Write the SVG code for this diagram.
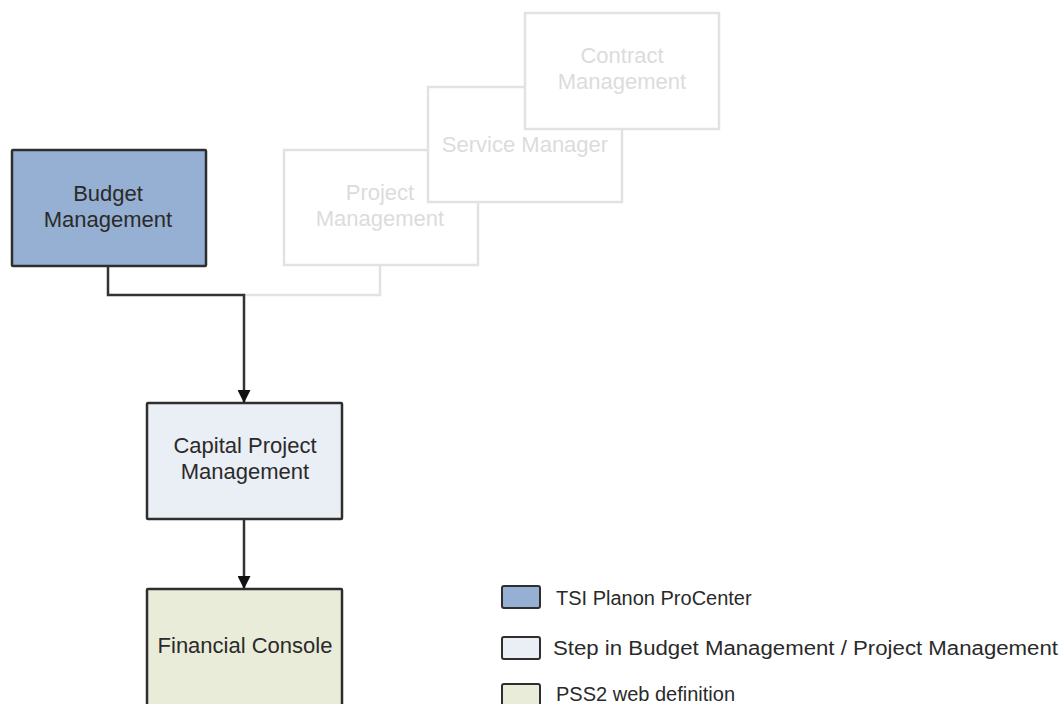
<svg xmlns="http://www.w3.org/2000/svg" width="1064" height="704" viewBox="0 0 1064 704">
<style>
text{font-family:"Liberation Sans",Arial,sans-serif;font-size:22px;text-anchor:middle;fill:#2a2a2a}
.faint rect{fill:#fff;stroke:#e2e2e2;stroke-width:2.5}
.faint text{fill:#dcdcdc}
.node rect{stroke:#2e2e2e;stroke-width:2.5}
.leg rect{stroke:#2e2e2e;stroke-width:2}
.leg text{text-anchor:start;font-size:20px}
.conn{fill:none;stroke:#333;stroke-width:2.5}
</style>
<defs>
<marker id="ah" markerWidth="13" markerHeight="13" refX="12" refY="6.5" orient="auto" markerUnits="userSpaceOnUse">
<path d="M0,0 L13,6.5 L0,13 Z" fill="#111"/>
</marker>
</defs>
<rect width="1064" height="704" fill="#fff"/>
<g id="connectors-faint">
<path d="M244,295 H380 V266" fill="none" stroke="#e2e2e2" stroke-width="2.5"/>
</g>
<g id="project-management" class="faint">
<rect x="284" y="150" width="194" height="115"/>
<text x="380" y="200">Project</text>
<text x="380" y="226">Management</text>
</g>
<g id="service-manager" class="faint">
<rect x="428" y="87" width="194" height="115"/>
<text x="525" y="152">Service Manager</text>
</g>
<g id="contract-management" class="faint">
<rect x="525" y="13" width="194" height="116"/>
<text x="622" y="63">Contract</text>
<text x="622" y="89">Management</text>
</g>
<g id="budget-management" class="node">
<rect x="12" y="150" width="194" height="116" fill="#95b0d2" rx="1"/>
<text x="108" y="201">Budget</text>
<text x="108" y="227">Management</text>
</g>
<g id="capital-project-management" class="node">
<rect x="147" y="403" width="195" height="116" fill="#eaeef5" rx="1"/>
<text x="245" y="453">Capital Project</text>
<text x="245" y="479">Management</text>
</g>
<g id="financial-console" class="node">
<rect x="147" y="589" width="195" height="130" fill="#e9ecd9" rx="1"/>
<text x="245" y="653">Financial Console</text>
</g>
<g id="connectors">
<path class="conn" d="M108,266 V295 H244 V402" marker-end="url(#ah)"/>
<path class="conn" d="M244,519 V588" marker-end="url(#ah)"/>
</g>
<g id="legend" class="leg">
<rect x="502" y="586" width="38" height="22" rx="2" fill="#95b0d2"/>
<text x="556" y="605">TSI Planon ProCenter</text>
<rect x="502" y="637" width="38" height="22" rx="2" fill="#eaeef5"/>
<text x="553" y="655" textLength="505" lengthAdjust="spacingAndGlyphs">Step in Budget Management / Project Management</text>
<rect x="502" y="684" width="38" height="22" rx="2" fill="#e9ecd9"/>
<text x="556" y="701">PSS2 web definition</text>
</g>
</svg>
